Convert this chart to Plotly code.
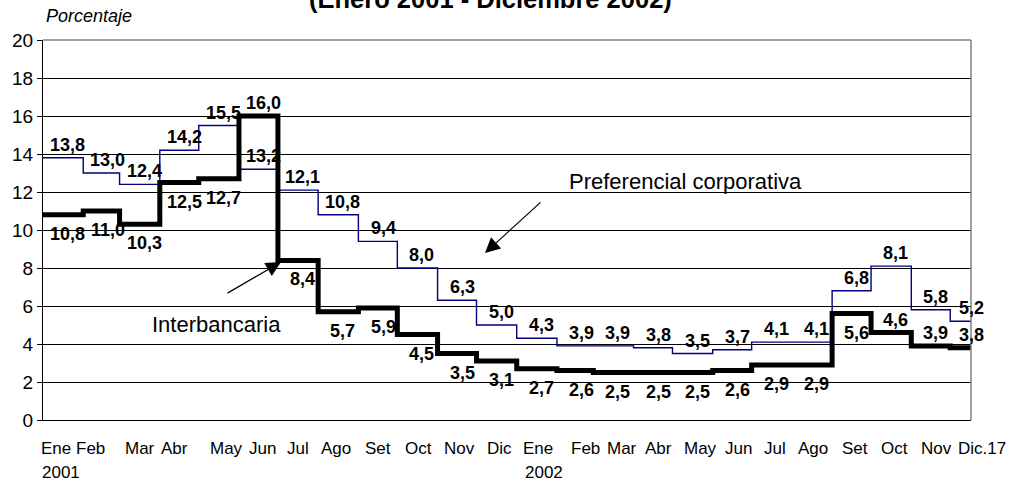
import plotly.graph_objects as go

# ---------------- datos ----------------
meses_eje = ["Ene", "Feb", "Mar", "Abr", "May", "Jun", "Jul", "Ago", "Set", "Oct", "Nov", "Dic",
             "Ene", "Feb", "Mar", "Abr", "May", "Jun", "Jul", "Ago", "Set", "Oct", "Nov", "Dic.17"]
anios_eje = ["2001", "2002"]
fechas = ["2001-01-01", "2001-02-01", "2001-03-01", "2001-04-01", "2001-05-01", "2001-06-01",
          "2001-07-01", "2001-08-01", "2001-09-01", "2001-10-01", "2001-11-01", "2001-12-01",
          "2002-01-01", "2002-02-01", "2002-03-01", "2002-04-01", "2002-05-01", "2002-06-01",
          "2002-07-01", "2002-08-01", "2002-09-01", "2002-10-01", "2002-11-01", "2002-12-01"]
fecha_final = "2002-12-17"
preferencial = [13.8, 13.0, 12.4, 14.2, 15.5, 13.2, 12.1, 10.8, 9.4, 8.0, 6.3, 5.0,
                4.3, 3.9, 3.9, 3.8, 3.5, 3.7, 4.1, 4.1, 6.8, 8.1, 5.8, 5.2]
interbancaria = [10.8, 11.0, 10.3, 12.5, 12.7, 16.0, 8.4, 5.7, 5.9, 4.5, 3.5, 3.1,
                 2.7, 2.6, 2.5, 2.5, 2.5, 2.6, 2.9, 2.9, 5.6, 4.6, 3.9, 3.8]

# ---------------- estilo / posiciones ----------------
FONT = "Liberation Sans, Arial, sans-serif"
L, R, T, B = 43, 41, 40, 63
W, H = 1012, 483
PW, PH = W - L - R, H - T - B


def px_x(px):
    return (px - L) / PW


def px_y(py):
    return (H - B - py) / PH


x_linea = fechas + [fecha_final]
x_etiqueta = [f[:8] + "20" for f in fechas[:-1]] + [fecha_final]
inter_arriba = {5, 21, 22, 23}

fig = go.Figure()
fig.add_trace(go.Scatter(x=x_linea, y=preferencial + [preferencial[-1]], mode="lines",
                         line=dict(color="#000080", width=1.4, shape="hv"),
                         name="Preferencial corporativa", hoverinfo="skip"))
fig.add_trace(go.Scatter(x=x_linea, y=interbancaria + [interbancaria[-1]], mode="lines",
                         line=dict(color="black", width=5, shape="hv"),
                         name="Interbancaria", hoverinfo="skip"))

ann = []


def fmt(v):
    return f"{v:.1f}".replace(".", ",")


for i, v in enumerate(preferencial):
    ann.append(dict(x=x_etiqueta[i], y=v, xref="x", yref="y", text=fmt(v), showarrow=False,
                    yanchor="middle", xanchor="center", yshift=13,
                    font=dict(family=FONT, size=18, color="black", weight="bold")))
for i, v in enumerate(interbancaria):
    ann.append(dict(x=x_etiqueta[i], y=v, xref="x", yref="y", text=fmt(v), showarrow=False,
                    yanchor="middle", xanchor="center",
                    yshift=13 if i in inter_arriba else -19,
                    font=dict(family=FONT, size=18, color="black", weight="bold")))

# etiquetas del eje x
centros_px = [56, 90, 140, 174, 226, 262, 298, 336, 378, 418, 459, 499,
              538, 585, 622, 658, 700, 738, 775, 813, 855, 894, 936, 982]
for m, c in zip(meses_eje, centros_px):
    ann.append(dict(x=px_x(c), y=px_y(448), xref="paper", yref="paper", text=m, showarrow=False,
                    xanchor="center", yanchor="middle", font=dict(family=FONT, size=17, color="black")))
for a, lp in zip(anios_eje, [40, 523]):
    ann.append(dict(x=px_x(lp), y=px_y(473), xref="paper", yref="paper", text=a, showarrow=False,
                    xanchor="left", yanchor="middle", font=dict(family=FONT, size=17, color="black")))

# textos
ann.append(dict(x=px_x(490), y=px_y(15), xref="paper", yref="paper",
                text="(Enero 2001 - Diciembre 2002)", showarrow=False, xanchor="center", yanchor="bottom",
                font=dict(family=FONT, size=25.5, color="black", weight="bold")))
ann.append(dict(x=px_x(44), y=px_y(16.5), xref="paper", yref="paper", text="Porcentaje", showarrow=False,
                xanchor="left", yanchor="middle", font=dict(family=FONT, size=18, color="black", style="italic")))
ann.append(dict(x=px_x(150), y=px_y(324), xref="paper", yref="paper", text="Interbancaria", showarrow=False,
                xanchor="left", yanchor="middle", font=dict(family=FONT, size=22, color="black")))
ann.append(dict(x=px_x(567), y=px_y(181), xref="paper", yref="paper", text="Preferencial corporativa",
                showarrow=False, xanchor="left", yanchor="middle", font=dict(family=FONT, size=22, color="black")))

# flechas
ann.append(dict(x=px_x(281), y=px_y(262), xref="paper", yref="paper", text="", showarrow=True,
                ax=-55, ay=32, arrowhead=2, arrowsize=2.5, arrowwidth=1.2, arrowcolor="black"))
ann.append(dict(x=px_x(485), y=px_y(253), xref="paper", yref="paper", text="", showarrow=True,
                ax=57, ay=-52, arrowhead=2, arrowsize=2.5, arrowwidth=1.2, arrowcolor="black"))

fig.update_layout(
    width=W, height=H,
    margin=dict(l=L, r=R, t=T, b=B, pad=0),
    paper_bgcolor="white", plot_bgcolor="white",
    showlegend=False,
    annotations=ann,
    shapes=[
        dict(type="line", xref="paper", yref="paper", x0=0, x1=1, y0=1, y1=1,
             line=dict(color="#808080", width=1.5), layer="above"),
        dict(type="line", xref="paper", yref="paper", x0=1, x1=1, y0=0, y1=1,
             line=dict(color="#808080", width=1.5), layer="above"),
    ],
    xaxis=dict(type="date", range=["2001-01-01", fecha_final], showticklabels=False, ticks="",
               showgrid=False, zeroline=False, showline=True, linecolor="black", linewidth=1),
    yaxis=dict(range=[0, 20], tickvals=list(range(0, 21, 2)), showgrid=True, gridcolor="black",
               gridwidth=1, zeroline=False, showline=True, linecolor="black", linewidth=1,
               ticks="outside", ticklen=5, tickcolor="black",
               tickfont=dict(family=FONT, size=19, color="black")),
)

fig.write_html("out.html", config={"displayModeBar": False},
               post_script="document.body.style.margin='0';document.body.style.overflow='hidden';")
